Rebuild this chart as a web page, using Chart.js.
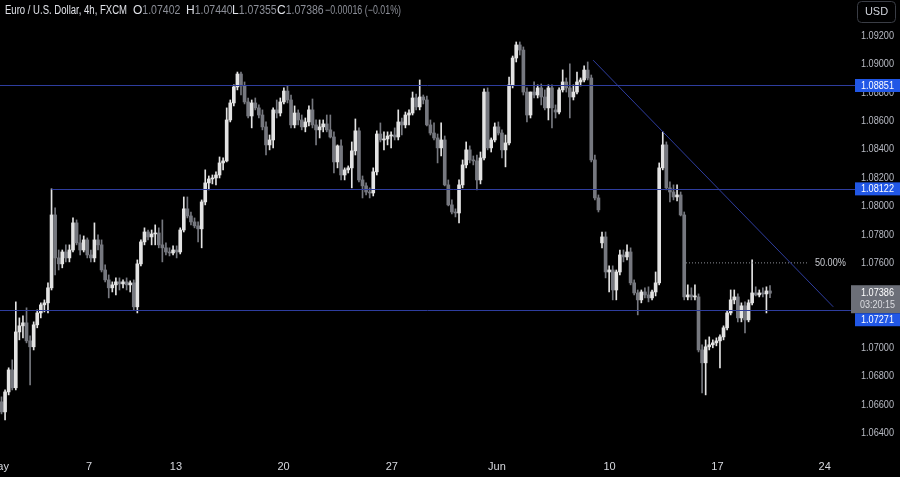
<!DOCTYPE html>
<html>
<head>
<meta charset="utf-8">
<script src="https://cdn.jsdelivr.net/npm/chart.js@4.4.1/dist/chart.umd.min.js"></script>
<style>
  html, body { margin: 0; padding: 0; background: #000; }
  #wrap { width: 900px; height: 477px; position: relative; }
</style>
</head>
<body>
<div id="wrap"><canvas id="chart" width="900" height="477"></canvas></div>
<script>
// ── EUR/USD 4h, FXCM ─────────────────────────────────────────────────────────
// Candles, one row per 4h bar: [open, high, low, close]

const candles = [
  [1.06620,1.06655,1.06535,1.06549],[1.06549,1.06704,1.06493,1.06690],[1.06690,1.06860,1.06669,1.06845],
  [1.06845,1.06916,1.06704,1.06719],[1.06719,1.07325,1.06704,1.07113],[1.07113,1.07212,1.07057,1.07156],
  [1.07156,1.07226,1.07071,1.07177],[1.07177,1.07283,1.07036,1.07050],[1.07050,1.07085,1.06740,1.07008],
  [1.07008,1.07184,1.06986,1.07163],[1.07163,1.07268,1.07142,1.07247],[1.07247,1.07318,1.07212,1.07304],
  [1.07304,1.07339,1.07254,1.07318],[1.07318,1.07459,1.07247,1.07424],[1.07424,1.08122,1.07409,1.07938],
  [1.07938,1.07988,1.07515,1.07635],[1.07635,1.07691,1.07550,1.07593],[1.07593,1.07691,1.07565,1.07677],
  [1.07677,1.07727,1.07607,1.07635],[1.07635,1.07727,1.07607,1.07691],[1.07691,1.07917,1.07677,1.07882],
  [1.07882,1.07903,1.07727,1.07741],[1.07741,1.07797,1.07656,1.07691],[1.07691,1.07790,1.07677,1.07762],
  [1.07762,1.07776,1.07635,1.07656],[1.07656,1.07691,1.07607,1.07635],[1.07635,1.07882,1.07607,1.07762],
  [1.07762,1.07797,1.07691,1.07727],[1.07727,1.07762,1.07536,1.07550],[1.07550,1.07586,1.07466,1.07480],
  [1.07480,1.07515,1.07353,1.07424],[1.07424,1.07466,1.07395,1.07445],[1.07445,1.07494,1.07374,1.07466],
  [1.07466,1.07494,1.07409,1.07452],[1.07452,1.07480,1.07424,1.07466],[1.07466,1.07494,1.07409,1.07445],
  [1.07445,1.07473,1.07395,1.07459],[1.07459,1.07480,1.07268,1.07290],[1.07290,1.07621,1.07247,1.07593],
  [1.07593,1.07762,1.07579,1.07748],[1.07748,1.07847,1.07727,1.07818],[1.07818,1.07832,1.07762,1.07783],
  [1.07783,1.07832,1.07727,1.07804],[1.07804,1.07868,1.07727,1.07811],[1.07811,1.07847,1.07706,1.07727],
  [1.07727,1.07903,1.07607,1.07706],[1.07706,1.07741,1.07656,1.07677],[1.07677,1.07706,1.07649,1.07670],
  [1.07670,1.07720,1.07656,1.07691],[1.07691,1.07720,1.07635,1.07677],[1.07677,1.07847,1.07663,1.07832],
  [1.07832,1.08065,1.07818,1.07981],[1.07981,1.08065,1.07917,1.07931],[1.07931,1.07959,1.07868,1.07889],
  [1.07889,1.07917,1.07847,1.07861],[1.07861,1.07889,1.07748,1.07840],[1.07840,1.08044,1.07706,1.08030],
  [1.08030,1.08256,1.08009,1.08164],[1.08164,1.08213,1.08115,1.08192],[1.08192,1.08220,1.08157,1.08199],
  [1.08199,1.08242,1.08150,1.08220],[1.08220,1.08347,1.08199,1.08305],[1.08305,1.08340,1.08256,1.08319],
  [1.08319,1.08693,1.08312,1.08608],[1.08608,1.08749,1.08594,1.08728],[1.08728,1.08855,1.08707,1.08841],
  [1.08841,1.08946,1.08820,1.08932],[1.08932,1.08946,1.08784,1.08848],[1.08848,1.08876,1.08721,1.08735],
  [1.08735,1.08763,1.08622,1.08636],[1.08636,1.08749,1.08552,1.08728],[1.08728,1.08763,1.08679,1.08693],
  [1.08693,1.08714,1.08622,1.08643],[1.08643,1.08679,1.08538,1.08559],[1.08559,1.08594,1.08361,1.08432],
  [1.08432,1.08502,1.08397,1.08467],[1.08467,1.08693,1.08411,1.08679],[1.08679,1.08749,1.08622,1.08657],
  [1.08657,1.08763,1.08636,1.08735],[1.08735,1.08834,1.08721,1.08812],[1.08812,1.08848,1.08728,1.08749],
  [1.08749,1.08784,1.08552,1.08573],[1.08573,1.08707,1.08552,1.08657],[1.08657,1.08679,1.08573,1.08608],
  [1.08608,1.08643,1.08538,1.08559],[1.08559,1.08622,1.08524,1.08594],[1.08594,1.08707,1.08566,1.08679],
  [1.08679,1.08756,1.08552,1.08573],[1.08573,1.08608,1.08432,1.08538],[1.08538,1.08608,1.08481,1.08559],
  [1.08559,1.08608,1.08524,1.08580],[1.08580,1.08643,1.08524,1.08538],[1.08538,1.08643,1.08481,1.08488],
  [1.08488,1.08524,1.08234,1.08312],[1.08312,1.08432,1.08270,1.08425],[1.08425,1.08467,1.08185,1.08220],
  [1.08220,1.08270,1.08185,1.08256],[1.08256,1.08284,1.08234,1.08270],[1.08270,1.08453,1.08129,1.08390],
  [1.08390,1.08615,1.08361,1.08531],[1.08531,1.08552,1.08171,1.08185],[1.08185,1.08213,1.08058,1.08143],
  [1.08143,1.08164,1.08079,1.08100],[1.08100,1.08129,1.08058,1.08093],[1.08093,1.08270,1.08072,1.08242],
  [1.08242,1.08531,1.08220,1.08509],[1.08509,1.08587,1.08453,1.08467],[1.08467,1.08524,1.08397,1.08474],
  [1.08474,1.08524,1.08432,1.08495],[1.08495,1.08524,1.08411,1.08502],[1.08502,1.08552,1.08467,1.08488],
  [1.08488,1.08679,1.08467,1.08594],[1.08594,1.08622,1.08502,1.08573],[1.08573,1.08664,1.08552,1.08643],
  [1.08643,1.08679,1.08573,1.08657],[1.08657,1.08805,1.08643,1.08763],[1.08763,1.08791,1.08679,1.08700],
  [1.08700,1.08890,1.08679,1.08770],[1.08770,1.08784,1.08721,1.08749],[1.08749,1.08777,1.08566,1.08573],
  [1.08573,1.08608,1.08502,1.08516],[1.08516,1.08587,1.08467,1.08481],[1.08481,1.08509,1.08305,1.08411],
  [1.08411,1.08587,1.08354,1.08467],[1.08467,1.08495,1.08143,1.08150],[1.08150,1.08185,1.08002,1.08009],
  [1.08009,1.08044,1.07945,1.07959],[1.07959,1.07981,1.07924,1.07952],[1.07952,1.08185,1.07882,1.08150],
  [1.08150,1.08326,1.08129,1.08291],[1.08291,1.08453,1.08270,1.08397],[1.08397,1.08425,1.08305,1.08326],
  [1.08326,1.08354,1.08291,1.08319],[1.08319,1.08361,1.08115,1.08185],[1.08185,1.08382,1.08157,1.08340],
  [1.08340,1.08827,1.08326,1.08805],[1.08805,1.08834,1.08397,1.08411],[1.08411,1.08481,1.08382,1.08467],
  [1.08467,1.08587,1.08453,1.08559],[1.08559,1.08594,1.08502,1.08516],[1.08516,1.08538,1.08340,1.08397],
  [1.08397,1.08502,1.08277,1.08446],[1.08446,1.08911,1.08432,1.08855],[1.08855,1.09059,1.08834,1.09045],
  [1.09045,1.09158,1.09017,1.09137],[1.09137,1.09158,1.09066,1.09101],[1.09101,1.09123,1.08784,1.08805],
  [1.08805,1.08834,1.08594,1.08643],[1.08643,1.08805,1.08622,1.08805],[1.08805,1.08876,1.08763,1.08784],
  [1.08784,1.08855,1.08763,1.08834],[1.08834,1.08862,1.08714,1.08770],[1.08770,1.08820,1.08679,1.08693],
  [1.08693,1.08855,1.08608,1.08834],[1.08834,1.08855,1.08552,1.08693],[1.08679,1.08714,1.08622,1.08664],
  [1.08664,1.08834,1.08650,1.08820],[1.08820,1.08961,1.08805,1.08876],[1.08876,1.08904,1.08805,1.08834],
  [1.08834,1.09003,1.08622,1.08770],[1.08770,1.08855,1.08749,1.08805],[1.08805,1.08946,1.08791,1.08876],
  [1.08876,1.08904,1.08848,1.08890],[1.08890,1.08989,1.08876,1.08960],[1.08960,1.09017,1.08890,1.08904],
  [1.08904,1.08925,1.08312,1.08326],[1.08326,1.08361,1.08044,1.08058],[1.08058,1.08079,1.07959,1.07974],
  [1.07741,1.07818,1.07706,1.07783],[1.07783,1.07818,1.07494,1.07536],[1.07536,1.07579,1.07395,1.07550],
  [1.07550,1.07579,1.07339,1.07409],[1.07409,1.07550,1.07339,1.07536],[1.07536,1.07691,1.07515,1.07656],
  [1.07656,1.07691,1.07607,1.07642],[1.07642,1.07727,1.07621,1.07677],[1.07677,1.07706,1.07445,1.07459],
  [1.07459,1.07480,1.07374,1.07388],[1.07388,1.07409,1.07233,1.07339],[1.07339,1.07409,1.07318,1.07395],
  [1.07395,1.07424,1.07353,1.07374],[1.07374,1.07431,1.07325,1.07353],[1.07353,1.07409,1.07339,1.07395],
  [1.07395,1.07536,1.07367,1.07459],[1.07459,1.08305,1.07445,1.08270],[1.08270,1.08524,1.08256,1.08432],
  [1.08432,1.08453,1.08115,1.08129],[1.08129,1.08171,1.08030,1.08100],[1.08100,1.08150,1.08044,1.08065],
  [1.08065,1.08150,1.08037,1.08079],[1.08079,1.08100,1.07931,1.07938],[1.07938,1.07959,1.07339,1.07360],
  [1.07360,1.07445,1.07339,1.07374],[1.07374,1.07424,1.07339,1.07360],[1.07360,1.07445,1.07339,1.07367],
  [1.07360,1.07381,1.06972,1.06986],[1.06986,1.07022,1.06683,1.06895],[1.06895,1.07057,1.06669,1.07008],
  [1.07008,1.07078,1.06986,1.07022],[1.07022,1.07057,1.07001,1.07036],[1.07036,1.07071,1.07015,1.07050],
  [1.07050,1.07092,1.06860,1.07078],[1.07078,1.07156,1.07057,1.07142],[1.07142,1.07261,1.07127,1.07247],
  [1.07247,1.07409,1.07233,1.07339],[1.07339,1.07409,1.07311,1.07360],[1.07360,1.07381,1.07184,1.07212],
  [1.07212,1.07318,1.07184,1.07297],[1.07297,1.07325,1.07106,1.07198],[1.07198,1.07339,1.07184,1.07318],
  [1.07318,1.07621,1.07304,1.07388],[1.07388,1.07431,1.07367,1.07374],[1.07374,1.07409,1.07360,1.07388],
  [1.07388,1.07424,1.07360,1.07381],[1.07381,1.07431,1.07247,1.07402],[1.07402,1.07440,1.07355,1.07386],
];

// horizontal support / resistance levels and the bar index where each starts
const levels     = [1.08851, 1.08122, 1.07271];
const levelStart = [-1, 14, -1];

// descending trendline from the Jun 7 high, [barIndex, price]
const trendLine = [[165.5, 1.0903], [232.7, 1.0729]];

// 50% retracement (dotted), price and bar range
const fibPrice = 1.0760;
const fibRange = [191.5, 225.6];
const fibLabel = '50.00%';

// price axis ticks
const priceTicks = [1.092, 1.090, 1.088, 1.086, 1.084, 1.082, 1.080, 1.078,
                    1.076, 1.074, 1.072, 1.070, 1.068, 1.066, 1.064];

// time axis labels and the bar index they sit on
const dateLabels = ['May', '7', '13', '20', '27', 'Jun', '10', '17', '24'];
const datePos    = [-0.84, 24.5, 48.8, 78.9, 109.2, 138.6, 170.1, 200.3, 230.3];

const lastBar   = candles[candles.length - 1];
const countdown = '03:20:15';

const BULL = '#e3e3e3';
const BEAR = '#76787f';
const LEVEL_COLOR = '#2e3d9e';
const FONT = '"Liberation Sans", Arial, sans-serif';

const colors = candles.map(c => (c[3] >= c[0] ? BULL : BEAR));

// ── level lines: drawn on the y scale, snapped to whole pixels ─────────────
const levelLines = {
  id: 'levelLines',
  afterDatasetsDraw(chart) {
    const { ctx, scales: { x, y }, chartArea } = chart;
    ctx.save();
    ctx.strokeStyle = LEVEL_COLOR;
    ctx.lineWidth = 1;
    levels.forEach((v, i) => {
      const ly = Math.round(y.getPixelForValue(v)) + 0.5;
      ctx.beginPath();
      ctx.moveTo(Math.max(0, x.getPixelForValue(levelStart[i])), ly);
      ctx.lineTo(chartArea.right + 6, ly);
      ctx.stroke();
    });
    ctx.restore();
  }
};

// ── overlay: price scale, time scale, level tags, header ───────────────────
const overlay = {
  id: 'overlay',
  afterDraw(chart) {
    const { ctx, scales: { x, y } } = chart;
    ctx.save();
    ctx.textBaseline = 'middle';

    // price axis labels
    ctx.font = '11px ' + FONT;
    ctx.fillStyle = '#b8bbc4';
    ctx.textAlign = 'left';
    priceTicks.forEach(v => ctx.fillText(v.toFixed(5), 861, y.getPixelForValue(v), 33));

    // time axis labels
    ctx.textAlign = 'center';
    ctx.fillStyle = '#d6d8de';
    dateLabels.forEach((t, i) => ctx.fillText(t, x.getPixelForValue(datePos[i]), 467));

    // current price tag (grey, two lines)
    const py = y.getPixelForValue(lastBar[3]);
    const curTop = py - 8, curBottom = py + 20;
    ctx.fillStyle = '#6c6f78';
    ctx.fillRect(851, curTop, 49, curBottom - curTop);
    ctx.textAlign = 'left';
    ctx.fillStyle = '#ffffff';
    ctx.fillText(lastBar[3].toFixed(5), 861, py, 33);
    ctx.fillStyle = '#dcdde2';
    ctx.fillText(countdown, 860, py + 12, 35);

    // level tags (pushed below the current tag when they collide)
    levels.forEach(v => {
      const ly = y.getPixelForValue(v);
      let top = ly - 6.5;
      if (top < curBottom && top + 13 > curTop) top = curBottom;
      ctx.fillStyle = '#2157e6';
      ctx.fillRect(855, top, 45, 13);
      ctx.fillStyle = '#ffffff';
      ctx.fillText(v.toFixed(5), 861, top + 6.5, 33);
    });

    // fib label
    ctx.fillStyle = '#c8cad0';
    ctx.fillText(fibLabel, x.getPixelForValue(fibRange[1]) + 7, y.getPixelForValue(fibPrice), 31);

    // USD box
    ctx.strokeStyle = '#3a3d45';
    ctx.lineWidth = 1;
    ctx.beginPath();
    ctx.roundRect(857.5, 1.5, 38, 21, 4);
    ctx.stroke();
    ctx.fillStyle = '#d1d4dc';
    ctx.textAlign = 'center';
    ctx.fillText('USD', 876.5, 12);

    // header line
    ctx.textAlign = 'left';
    ctx.font = '12px ' + FONT;
    ctx.fillStyle = '#e0e2e8';
    ctx.fillText('Euro / U.S. Dollar, 4h, FXCM', 5, 11, 122);
    const ohlc = [['O', lastBar[0], 133], ['H', lastBar[1], 186], ['L', lastBar[2], 232], ['C', lastBar[3], 277]];
    ohlc.forEach(([k, v, px]) => {
      ctx.fillStyle = '#e0e2e8';
      ctx.fillText(k, px, 11);
      ctx.fillStyle = '#8c8f98';
      ctx.fillText(v.toFixed(5), px + ctx.measureText(k).width, 11, 38);
    });
    const chg = lastBar[3] - lastBar[0];
    const chgText = '\u2212' + Math.abs(chg).toFixed(5) + ' (\u2212' + Math.abs(chg / lastBar[0] * 100).toFixed(2) + '%)';
    ctx.fillText(chgText, 325, 11, 76);

    ctx.restore();
  }
};

const lineDs = (data, color, dash) => ({
  type: 'line',
  data,
  borderColor: color,
  borderWidth: 1,
  borderDash: dash || [],
  pointRadius: 0,
  tension: 0,
  order: 0,
});

new Chart(document.getElementById('chart'), {
  type: 'bar',
  data: {
    datasets: [
      lineDs(trendLine.map(([i, p]) => ({ x: i, y: p })), LEVEL_COLOR),
      lineDs([{ x: fibRange[0], y: fibPrice }, { x: fibRange[1], y: fibPrice }], '#8a8d96', [1, 2]),
      {
        label: 'wick',
        data: candles.map((c, i) => ({ x: i, y: [c[2], c[1]] })),
        backgroundColor: colors,
        barThickness: 1,
        grouped: false,
        order: 2,
      },
      {
        label: 'body',
        data: candles.map((c, i) => ({ x: i, y: [c[0], c[3]] })),
        backgroundColor: colors,
        barThickness: 3,
        minBarLength: 1,
        grouped: false,
        order: 1,
      },
    ],
  },
  options: {
    responsive: false,
    animation: false,
    devicePixelRatio: 1,
    layout: { padding: { left: 0, right: 51, top: 0, bottom: 22 } },
    plugins: { legend: { display: false }, tooltip: { enabled: false } },
    scales: {
      x: { type: 'linear', min: -0.42, max: 237.1, offset: false, display: false },
      y: { min: 1.06245, max: 1.09454, display: false },
    },
  },
  plugins: [levelLines, overlay],
});
</script>
</body>
</html>
